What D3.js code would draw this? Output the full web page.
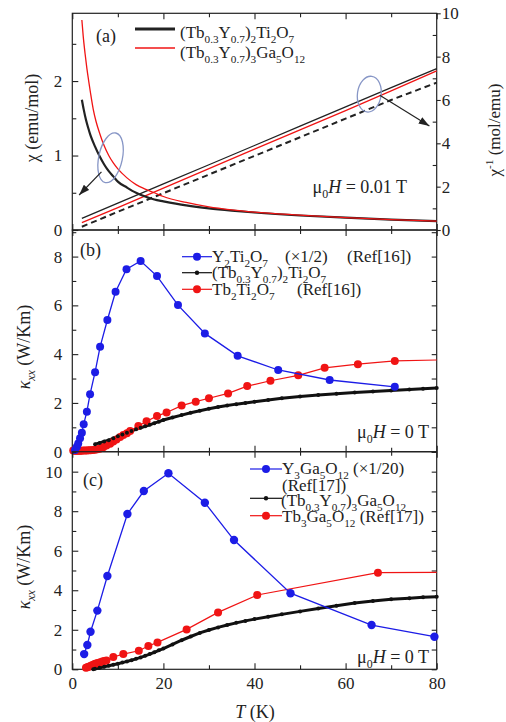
<!DOCTYPE html>
<html>
<head>
<meta charset="utf-8">
<script src="https://cdn.jsdelivr.net/npm/d3@7"></script>
<style>
  body { margin: 0; background: #fff; }
</style>
</head>
<body>
<div id="chart"></div>
<script>
// ---- panel (a): susceptibility ----
const chiT_Ti = [2.1, 2.5, 3, 3.5, 4, 5, 6, 7, 8, 9, 10, 12, 14, 16, 18, 20, 25, 30, 35, 40, 50, 60, 70, 80];
const chi_Ti  = [1.75, 1.62, 1.48, 1.37, 1.27, 1.12, 0.99, 0.88, 0.79, 0.72, 0.65, 0.57, 0.50, 0.45, 0.41, 0.385, 0.33, 0.29, 0.26, 0.235, 0.195, 0.165, 0.14, 0.12];
const chiT_Ga = [2.1, 2.4, 2.8, 3.2, 3.6, 4, 4.6, 5.2, 6, 7, 8, 9, 10, 12, 14, 16, 18, 20, 25, 30, 35, 40, 50, 60, 70, 80];
const chi_Ga  = [2.82, 2.6, 2.37, 2.17, 2.0, 1.84, 1.62, 1.46, 1.30, 1.13, 1.0, 0.9, 0.82, 0.70, 0.61, 0.55, 0.50, 0.45, 0.37, 0.31, 0.27, 0.24, 0.20, 0.165, 0.14, 0.12];
const invT    = [2.1, 10, 20, 30, 40, 50, 60, 70, 80];
const inv_Ti  = [0.54, 1.24, 2.13, 3.01, 3.90, 4.79, 5.68, 6.57, 7.45];
const inv_Ga  = [0.34, 1.03, 1.93, 2.83, 3.73, 4.62, 5.51, 6.42, 7.34];
const inv_CW  = [0.15, 0.84, 1.70, 2.56, 3.42, 4.28, 5.14, 6.0, 6.8];

// ---- panel (b): pyrochlore thermal conductivity ----
const bT_Y  = [0.6, 1.0, 1.3, 1.7, 2.1, 2.5, 3.2, 3.9, 5.0, 6.1, 7.7, 9.5, 11.9, 15.0, 18.6, 23.2, 29.1, 36.3, 45.2, 56.5, 70.8];
const bK_Y  = [0.07, 0.2, 0.34, 0.55, 0.78, 1.13, 1.64, 2.36, 3.26, 4.30, 5.40, 6.56, 7.48, 7.82, 7.20, 6.01, 4.85, 3.93, 3.35, 2.94, 2.66];
const bT_Tb = [0.2, 0.5, 0.8, 1.1, 1.4, 1.7, 2.0, 2.4, 2.8, 3.2, 3.6, 4.0, 4.5, 5.0, 5.5, 6.0, 6.8, 7.5, 8.3, 9.0, 9.7, 10.5, 11.2, 12.0, 12.7, 14.5, 16.3, 18.6, 20.7, 24.0, 27.1, 30.0, 34.2, 38.4, 43.5, 49.6, 55.4, 62.7, 70.8, 80];
const bK_Tb = [0.05, 0.04, 0.04, 0.04, 0.04, 0.04, 0.04, 0.05, 0.05, 0.05, 0.06, 0.06, 0.07, 0.08, 0.1, 0.12, 0.18, 0.25, 0.33, 0.42, 0.5, 0.6, 0.68, 0.76, 0.85, 1.05, 1.25, 1.46, 1.61, 1.89, 2.05, 2.19, 2.39, 2.69, 2.91, 3.13, 3.44, 3.59, 3.72, 3.76];
const bT_mix = [5, 6, 7, 8, 9, 10, 11, 12, 13, 14, 15, 16, 17, 18, 19, 20, 22, 24, 26, 28, 30, 32, 34, 36, 38, 40, 43, 46, 50, 54, 58, 62, 66, 70, 74, 77, 80];
const bK_mix = [0.31, 0.36, 0.42, 0.47, 0.55, 0.63, 0.71, 0.78, 0.85, 0.92, 0.98, 1.04, 1.10, 1.17, 1.23, 1.3, 1.40, 1.50, 1.60, 1.68, 1.76, 1.83, 1.89, 1.95, 2.00, 2.05, 2.12, 2.19, 2.26, 2.32, 2.38, 2.43, 2.47, 2.51, 2.55, 2.58, 2.61];

// ---- panel (c): garnet thermal conductivity ----
const cT_Y  = [2.6, 3.3, 4.0, 5.5, 7.7, 12.1, 15.7, 21.1, 29.1, 35.5, 47.9, 65.7, 79.5];
const cK_Y  = [0.77, 1.23, 1.90, 2.97, 4.72, 7.86, 9.02, 9.92, 8.43, 6.54, 3.85, 2.24, 1.65];
const cT_Tb = [3.0, 3.3, 3.6, 3.9, 4.2, 4.5, 4.8, 5.1, 5.4, 5.8, 6.2, 6.6, 7.0, 7.5, 9.0, 11.2, 14.6, 16.7, 18.7, 25.1, 32.0, 40.6, 67.1, 80];
const cK_Tb = [0.08, 0.1, 0.13, 0.16, 0.19, 0.22, 0.25, 0.28, 0.3, 0.33, 0.36, 0.39, 0.42, 0.45, 0.62, 0.77, 0.94, 1.18, 1.36, 2.02, 2.88, 3.76, 4.89, 4.9];
const cT_mix = [4.6, 5, 6, 7, 8, 9, 10, 11, 12, 13, 14, 15, 16, 17, 18, 19, 20, 22, 24, 26, 28, 30, 32, 34, 36, 38, 40, 43, 46, 50, 54, 58, 62, 66, 70, 74, 77, 80];
const cK_mix = [0.0, 0.03, 0.08, 0.13, 0.18, 0.23, 0.28, 0.34, 0.40, 0.46, 0.53, 0.6, 0.68, 0.77, 0.86, 0.96, 1.05, 1.26, 1.47, 1.66, 1.84, 1.99, 2.12, 2.24, 2.35, 2.45, 2.54, 2.66, 2.78, 2.93, 3.08, 3.22, 3.35, 3.45, 3.54, 3.60, 3.64, 3.67];

const xMajor = [0, 20, 40, 60, 80];
const xMinor = [10, 30, 50, 70];

const BLUE = '#1c1ce6', RED = '#f01414', INK = '#222';
const FONT = '"Liberation Serif", "Times New Roman", "DejaVu Serif", serif';

const svg = d3.select('#chart').append('svg')
  .attr('width', 506).attr('height', 722)
  .attr('font-family', FONT);

const defs = svg.append('defs');
defs.append('marker').attr('id', 'ah')
  .attr('viewBox', '0 0 10 7').attr('refX', 10).attr('refY', 3.5)
  .attr('markerUnits', 'userSpaceOnUse')
  .attr('markerWidth', 11).attr('markerHeight', 7.5).attr('orient', 'auto')
  .append('path').attr('d', 'M0,0L10,3.5L0,7Z').attr('fill', INK);

const x = d3.scaleLinear().domain([0, 80]).range([72.3, 436.7]);
const pa = {top: 13.3, bottom: 230}, pb = {top: 230, bottom: 451.7}, pc = {top: 451.7, bottom: 669.3};
const yA  = d3.scaleLinear().domain([0, 2.91]).range([pa.bottom, pa.top]);
const yA2 = d3.scaleLinear().domain([0, 10]).range([pa.bottom, pa.top]);
const yB  = d3.scaleLinear().domain([0, 9.09]).range([pb.bottom, pb.top]);
const yC  = d3.scaleLinear().domain([0, 11.01]).range([pc.bottom, pc.top]);

const zip = (ts, vs) => ts.map((t, i) => [t, vs[i]]);

function styleAxis(g) {
  g.select('.domain').remove();
  g.attr('font-size', 17).attr('font-family', FONT).attr('color', INK);
  g.selectAll('line').attr('stroke-width', 1.1);
  g.selectAll('text').attr('fill', INK);
}

function frame(p, yS, yMaj, yMin, labelX) {
  const gl = svg.append('g').attr('transform', `translate(${x(0)},0)`);
  gl.call(d3.axisLeft(yS).tickValues(yMaj).tickSize(-6).tickPadding(10).tickFormat(d3.format('d'))).call(styleAxis);
  gl.append('g').call(d3.axisLeft(yS).tickValues(yMin).tickSize(-4).tickFormat('')).call(styleAxis);

  const gt = svg.append('g').attr('transform', `translate(0,${p.top})`);
  gt.call(d3.axisTop(x).tickValues(xMajor).tickSize(-6).tickFormat('')).call(styleAxis);
  gt.append('g').call(d3.axisTop(x).tickValues(xMinor).tickSize(-4).tickFormat('')).call(styleAxis);

  const gb = svg.append('g').attr('transform', `translate(0,${p.bottom})`);
  gb.call(d3.axisBottom(x).tickValues(xMajor).tickSize(-6).tickPadding(8)
    .tickFormat(labelX ? d3.format('d') : '')).call(styleAxis);
  gb.append('g').call(d3.axisBottom(x).tickValues(xMinor).tickSize(-4).tickFormat('')).call(styleAxis);

  svg.append('rect')
    .attr('x', x(0)).attr('y', p.top)
    .attr('width', x(80) - x(0)).attr('height', p.bottom - p.top)
    .attr('fill', 'none').attr('stroke', INK).attr('stroke-width', 1.2);
}

// rich text with subscripts ('s'), superscripts ('u') and italics ('i')
function rich(x0, y0, parts, size, anchor, rotate) {
  const t = svg.append('text').attr('font-size', size).attr('font-family', FONT)
    .attr('fill', INK).attr('text-anchor', anchor || 'start');
  if (rotate) t.attr('transform', `translate(${x0},${y0}) rotate(${rotate})`);
  else t.attr('x', x0).attr('y', y0);
  let shift = 0;
  parts.forEach(([s, k]) => {
    const target = k.includes('s') ? size * 0.28 : k.includes('u') ? -size * 0.4 : 0;
    const sp = t.append('tspan').attr('dy', target - shift).text(s);
    if (k.includes('s') || k.includes('u')) sp.attr('font-size', size * 0.66);
    if (k.includes('i')) sp.attr('font-style', 'italic');
    shift = target;
  });
  return t;
}

// ================= panel (a) =================
frame(pa, yA, [0, 1, 2], [0.5, 1.5, 2.5], false);
const gr = svg.append('g').attr('transform', `translate(${x(80)},0)`);
gr.call(d3.axisRight(yA2).tickValues([0, 2, 4, 6, 8, 10]).tickSize(4).tickPadding(1)).call(styleAxis);
gr.append('g').call(d3.axisRight(yA2).tickValues([1, 3, 5, 7, 9]).tickSize(-4).tickFormat('')).call(styleAxis);

const lineA = d3.line().x(d => x(d[0])).y(d => yA(d[1])).curve(d3.curveMonotoneX);
const lineA2 = d3.line().x(d => x(d[0])).y(d => yA2(d[1]));

svg.append('path').datum(zip(invT, inv_CW)).attr('d', lineA2)
  .attr('fill', 'none').attr('stroke', INK).attr('stroke-width', 2).attr('stroke-dasharray', '6,4');
svg.append('path').datum(zip(invT, inv_Ti)).attr('d', lineA2)
  .attr('fill', 'none').attr('stroke', INK).attr('stroke-width', 1.3);
svg.append('path').datum(zip(invT, inv_Ga)).attr('d', lineA2)
  .attr('fill', 'none').attr('stroke', RED).attr('stroke-width', 1.3);
svg.append('path').datum(zip(chiT_Ti, chi_Ti)).attr('d', lineA)
  .attr('fill', 'none').attr('stroke', INK).attr('stroke-width', 2.2);
svg.append('path').datum(zip(chiT_Ga, chi_Ga)).attr('d', lineA)
  .attr('fill', 'none').attr('stroke', RED).attr('stroke-width', 1.3);

// ellipses and arrows marking which axis each set belongs to
const ellipses = [
  {t: 8.4, v: 0.97, s: yA, rt: 2.6, rv: 0.34, rot: 12, from: [6.4, 0.78], to: [1.5, 0.47]},
  {t: 65.2, v: 6.27, s: yA2, rt: 2.6, rv: 0.83, rot: 8, from: [67.5, 6.22], to: [78.4, 4.8]}
];
ellipses.forEach(e => {
  const cx = x(e.t), cy = e.s(e.v);
  svg.append('ellipse').attr('cx', cx).attr('cy', cy)
    .attr('rx', x(e.rt) - x(0)).attr('ry', e.s(0) - e.s(e.rv))
    .attr('transform', `rotate(${e.rot},${cx},${cy})`)
    .attr('fill', 'none').attr('stroke', '#8796c6').attr('stroke-width', 1.3);
  svg.append('line')
    .attr('x1', x(e.from[0])).attr('y1', e.s(e.from[1]))
    .attr('x2', x(e.to[0])).attr('y2', e.s(e.to[1]))
    .attr('stroke', INK).attr('stroke-width', 1.2).attr('marker-end', 'url(#ah)');
});

// legend (a)
svg.append('line').attr('x1', 135).attr('x2', 175).attr('y1', 29).attr('y2', 29)
  .attr('stroke', INK).attr('stroke-width', 3.2);
svg.append('line').attr('x1', 135).attr('x2', 175).attr('y1', 48).attr('y2', 48)
  .attr('stroke', RED).attr('stroke-width', 1.3);
rich(180, 38, [['(Tb', 'n'], ['0.3', 's'], ['Y', 'n'], ['0.7', 's'], [')', 'n'], ['2', 's'], ['Ti', 'n'], ['2', 's'], ['O', 'n'], ['7', 's']], 17);
rich(180, 58, [['(Tb', 'n'], ['0.3', 's'], ['Y', 'n'], ['0.7', 's'], [')', 'n'], ['3', 's'], ['Ga', 'n'], ['5', 's'], ['O', 'n'], ['12', 's']], 17);
rich(96, 42, [['(a)', 'n']], 18);
rich(407, 193, [['μ', 'n'], ['0', 's'], ['H', 'i'], [' = 0.01 T', 'n']], 18, 'end');
rich(38, 118, [['χ (emu/mol)', 'n']], 18, 'middle', -90);
rich(500, 130, [['χ', 'n'], ['-1', 'u'], [' (mol/emu)', 'n']], 17, 'middle', -90);

// ================= panel (b) =================
frame(pb, yB, [0, 2, 4, 6, 8], [1, 3, 5, 7, 9], false);
const rb = svg.append('g').attr('transform', `translate(${x(80)},0)`);
rb.call(d3.axisRight(yB).tickValues(d3.range(0, 10)).tickSize(-5).tickFormat('')).call(styleAxis);

function series(ts, vs, yS, color, r, lw, nMarks) {
  const pts = zip(ts, vs);
  const ln = d3.line().x(d => x(d[0])).y(d => yS(d[1]));
  svg.append('path').datum(pts).attr('d', ln)
    .attr('fill', 'none').attr('stroke', color).attr('stroke-width', lw);
  svg.append('g').selectAll('circle').data(pts.slice(0, nMarks === undefined ? pts.length : nMarks)).join('circle')
    .attr('cx', d => x(d[0])).attr('cy', d => yS(d[1])).attr('r', r).attr('fill', color);
}

series(bT_mix, bK_mix, yB, '#111', 1.8, 3, 0);
series(bT_Tb, bK_Tb, yB, RED, 4, 1.2, bT_Tb.length - 1);
svg.append('g').selectAll('circle').data(zip(bT_mix, bK_mix)).join('circle')
  .attr('cx', d => x(d[0])).attr('cy', d => yB(d[1])).attr('r', 2).attr('fill', '#111');
series(bT_Y, bK_Y, yB, BLUE, 4, 1.3);

function legendRow(x1, x2, y, color, r) {
  svg.append('line').attr('x1', x1).attr('x2', x2).attr('y1', y).attr('y2', y)
    .attr('stroke', color).attr('stroke-width', 1.2);
  svg.append('circle').attr('cx', (x1 + x2) / 2).attr('cy', y).attr('r', r).attr('fill', color);
}
legendRow(182, 212, 256.7, BLUE, 4);
legendRow(182, 212, 272.7, '#111', 2.2);
legendRow(182, 212, 289.3, RED, 4);
rich(212, 262, [['Y', 'n'], ['2', 's'], ['Ti', 'n'], ['2', 's'], ['O', 'n'], ['7', 's']], 17);
rich(285, 262, [['(×1/2)', 'n']], 17);
rich(347, 262, [['(Ref[16])', 'n']], 17);
rich(212, 278, [['(Tb', 'n'], ['0.3', 's'], ['Y', 'n'], ['0.7', 's'], [')', 'n'], ['2', 's'], ['Ti', 'n'], ['2', 's'], ['O', 'n'], ['7', 's']], 17);
rich(212, 295, [['Tb', 'n'], ['2', 's'], ['Ti', 'n'], ['2', 's'], ['O', 'n'], ['7', 's']], 17);
rich(297, 295, [['(Ref[16])', 'n']], 17);
rich(80, 256, [['(b)', 'n']], 18);
rich(429, 438, [['μ', 'n'], ['0', 's'], ['H', 'i'], [' = 0 T', 'n']], 18, 'end');
rich(30, 347, [['κ', 'i'], ['xx', 'si'], [' (W/Km)', 'n']], 18, 'middle', -90);

// ================= panel (c) =================
frame(pc, yC, [0, 2, 4, 6, 8, 10], [1, 3, 5, 7, 9, 11], true);
const rc = svg.append('g').attr('transform', `translate(${x(80)},0)`);
rc.call(d3.axisRight(yC).tickValues(d3.range(0, 12)).tickSize(-5).tickFormat('')).call(styleAxis);

series(cT_mix, cK_mix, yC, '#111', 1.8, 3, 0);
series(cT_Tb, cK_Tb, yC, RED, 4, 1.2, cT_Tb.length - 1);
svg.append('g').selectAll('circle').data(zip(cT_mix, cK_mix)).join('circle')
  .attr('cx', d => x(d[0])).attr('cy', d => yC(d[1])).attr('r', 2).attr('fill', '#111');
series(cT_Y, cK_Y, yC, BLUE, 4.2, 1.3);

legendRow(250, 282, 469, BLUE, 4);
legendRow(250, 282, 498.3, '#111', 2.2);
legendRow(250, 282, 515.7, RED, 4);
rich(282, 474, [['Y', 'n'], ['3', 's'], ['Ga', 'n'], ['5', 's'], ['O', 'n'], ['12', 's'], [' (×1/20)', 'n']], 17);
rich(282, 491, [['(Ref[17])', 'n']], 17);
rich(281, 506, [['(Tb', 'n'], ['0.3', 's'], ['Y', 'n'], ['0.7', 's'], [')', 'n'], ['3', 's'], ['Ga', 'n'], ['5', 's'], ['O', 'n'], ['12', 's']], 17);
rich(282, 522, [['Tb', 'n'], ['3', 's'], ['Ga', 'n'], ['5', 's'], ['O', 'n'], ['12', 's'], [' (Ref[17])', 'n']], 17);
rich(83, 486, [['(c)', 'n']], 18);
rich(429, 663, [['μ', 'n'], ['0', 's'], ['H', 'i'], [' = 0 T', 'n']], 18, 'end');
rich(30, 567, [['κ', 'i'], ['xx', 'si'], [' (W/Km)', 'n']], 18, 'middle', -90);
rich(255, 718, [['T', 'i'], [' (K)', 'n']], 18, 'middle');
</script>
</body>
</html>
